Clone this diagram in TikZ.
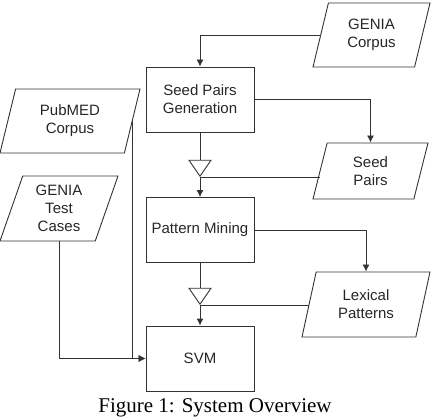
\documentclass[tikz,border=0pt]{standalone}
\usepackage{fontspec}
\setmainfont{Liberation Serif}
\setsansfont{Liberation Sans}
\usetikzlibrary{shapes.geometric, arrows.meta}
\newcommand{\pxunit}{1pt}

\begin{document}
\begin{tikzpicture}[font=\sffamily\fontsize{15}{18}\selectfont]
\useasboundingbox (0,0) rectangle (431*\pxunit,418*\pxunit);
\tikzstyle{process}=[draw=black!80,
                     line width=0.9pt,
                     rectangle,
                     minimum width  = 108*\pxunit,
                     minimum height = 65*\pxunit,
                     align=center,
                     inner sep=0pt,
                     text=black!85
                     ]
\tikzstyle{data}=[draw=black!80,
                  line width=0.9pt,
                  trapezium,
                  trapezium left angle=64,
                  trapezium right angle=116,
                  trapezium stretches body,
                  align=center,
                  inner sep=0pt,
                  text=black!85
                  ]
\tikzstyle{merge}=[draw=black!80,
                   line width=0.9pt,
                   isosceles triangle,
                   isosceles triangle stretches,
                   shape border rotate=270,
                   minimum width  = 22*\pxunit,
                   minimum height = 16*\pxunit,
                   inner sep=0pt
                   ]
\tikzstyle{link}=[draw=black!80, line width=0.9pt]
\tikzstyle{flow}=[link, -{Latex[length=7pt,width=7pt]}]

% process boxes
\node[process] (seedgen) at (200*\pxunit,318.5*\pxunit) {Seed Pairs\\Generation};
\node[process] (patmine) at (200*\pxunit,188*\pxunit) {Pattern Mining};
\node[process] (svm)     at (200*\pxunit,59.5*\pxunit) {SVM};

% data
\node[data, minimum width=117*\pxunit, minimum height=64*\pxunit] (geniacorpus) at (371.5*\pxunit,383*\pxunit) {GENIA\\Corpus};
\node[data, minimum width=115*\pxunit, minimum height=56*\pxunit] (seedpairs)   at (370.5*\pxunit,247*\pxunit) {Seed\\Pairs};
\node[data, minimum width=128*\pxunit, minimum height=65*\pxunit] (lexical)     at (366*\pxunit,113.5*\pxunit) {Lexical\\Patterns};
\node[data, minimum width=140*\pxunit, minimum height=64*\pxunit] (pubmed)      at (70*\pxunit,297*\pxunit) {PubMED\\Corpus};
\node[data, minimum width=118*\pxunit, minimum height=65*\pxunit] (geniatest)   at (59*\pxunit,209.5*\pxunit) {GENIA\\Test\\Cases};

% merge points
\node[merge] (merge1) at (200*\pxunit,252*\pxunit) {};
\node[merge] (merge2) at (200*\pxunit,124*\pxunit) {};

\draw[flow] (geniacorpus.west) -| (seedgen.north);
\draw[flow] (seedgen.east) -| (seedpairs.north);
\draw[link] (seedgen.south) -- (merge1.north);
\draw[link] (merge1.south) -- (merge1.south -| seedpairs.west);
\draw[flow] (merge1.south) -- (patmine.north);

\draw[flow] (patmine.east) -| (lexical.north);
\draw[link] (patmine.south) -- (merge2.north);
\draw[link] (merge2.south) -- (merge2.south -| lexical.west);
\draw[flow] (merge2.south) -- (svm.north);

\draw[flow] (geniatest.south) |- (svm.west);
\draw[flow] (pubmed.east) |- (svm.west);

\node[font=\rmfamily\fontsize{21}{24}\selectfont, inner sep=0pt] (caption) at (215*\pxunit,10*\pxunit) {Figure 1: System Overview};

\end{tikzpicture}
\end{document}
